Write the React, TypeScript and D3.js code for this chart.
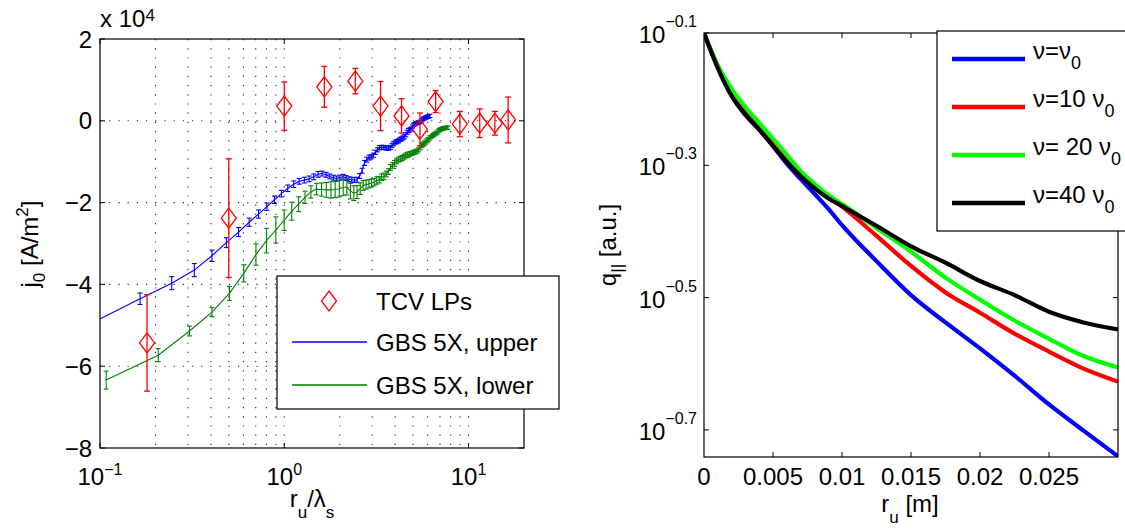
import * as d3 from "d3";

// left panel: j0 vs r_u/lambda_s (values in units of 1e4 A/m^2)
const lpR = [0.18, 0.5, 1.0, 1.65, 2.43, 3.33, 4.33, 5.45, 6.63, 8.97, 11.5, 13.9, 16.4];
const lpJ = [-5.43, -2.38, 0.36, 0.83, 0.97, 0.36, 0.12, -0.21, 0.47, -0.08, -0.06, -0.06, 0.02];
const lpErr = [1.18, 1.45, 0.59, 0.5, 0.31, 0.6, 0.42, 0.4, 0.27, 0.31, 0.35, 0.29, 0.56];

const upperR = [
  0.085, 0.165, 0.245, 0.325, 0.405, 0.485, 0.565, 0.645, 0.725, 0.805, 0.885, 0.965,
  1.045, 1.125, 1.205, 1.285, 1.365, 1.445, 1.525, 1.605, 1.685, 1.765, 1.845, 1.925,
  2.005, 2.085, 2.165, 2.245, 2.325, 2.405, 2.485, 2.565, 2.645, 2.725, 2.805, 2.885,
  2.965, 3.045, 3.125, 3.205, 3.285, 3.365, 3.445, 3.525, 3.605, 3.685, 3.765, 3.845,
  3.925, 4.005, 4.085, 4.165, 4.245, 4.325, 4.405, 4.485, 4.565, 4.645, 4.725, 4.805,
  4.885, 4.965, 5.045, 5.125, 5.205, 5.285, 5.365, 5.445, 5.525, 5.605, 5.685, 5.765,
  5.845, 5.925, 6.005, 6.085, 6.165,
];
const upperJ = [
  -5.0, -4.35, -3.97, -3.65, -3.3, -2.98, -2.72, -2.48, -2.28, -2.1, -1.93, -1.78,
  -1.65, -1.55, -1.48, -1.45, -1.42, -1.37, -1.31, -1.29, -1.32, -1.36,
  -1.39, -1.41, -1.39, -1.37, -1.4, -1.43, -1.44, -1.45, -1.44, -1.35,
  -1.22, -1.03, -0.95, -0.9, -0.88, -0.84, -0.77, -0.71, -0.66, -0.65,
  -0.65, -0.66, -0.67, -0.67, -0.65, -0.6, -0.56, -0.52, -0.51, -0.49,
  -0.46, -0.44, -0.42, -0.39, -0.34, -0.28, -0.24, -0.22, -0.19, -0.14,
  -0.1, -0.08, -0.06, -0.05, -0.04, -0.03, 0.0, 0.03, 0.05, 0.06,
  0.08, 0.09, 0.1, 0.11, 0.12,
];
const upperErr = [
  0.14, 0.14, 0.16, 0.16, 0.14, 0.12, 0.11, 0.1, 0.1, 0.09, 0.09, 0.08,
  0.08, 0.08, 0.07, 0.07, 0.07, 0.07, 0.07, 0.06, 0.06, 0.06,
  0.06, 0.06, 0.06, 0.06, 0.06, 0.06, 0.06, 0.06, 0.06, 0.06,
  0.06, 0.06, 0.06, 0.06, 0.05, 0.05, 0.05, 0.05, 0.05, 0.05,
  0.05, 0.05, 0.05, 0.05, 0.05, 0.05, 0.05, 0.05, 0.05, 0.05,
  0.05, 0.05, 0.05, 0.05, 0.05, 0.05, 0.05, 0.05, 0.04, 0.04,
  0.04, 0.04, 0.04, 0.04, 0.04, 0.04, 0.04, 0.04, 0.04, 0.04,
  0.04, 0.04, 0.04, 0.04, 0.04,
];

const lowerR = [
  0.108, 0.207, 0.306, 0.405, 0.504, 0.603, 0.702, 0.801, 0.9, 0.999,
  1.098, 1.197, 1.296, 1.395, 1.494, 1.593, 1.692, 1.791, 1.89, 1.989,
  2.088, 2.187, 2.286, 2.385, 2.484, 2.583, 2.682, 2.781, 2.88, 2.979,
  3.078, 3.177, 3.276, 3.375, 3.474, 3.573, 3.672, 3.771, 3.87, 3.969,
  4.068, 4.167, 4.266, 4.365, 4.464, 4.563, 4.662, 4.761, 4.86, 4.959,
  5.058, 5.157, 5.256, 5.355, 5.454, 5.553, 5.652, 5.751, 5.85, 5.949,
  6.048, 6.147, 6.246, 6.345, 6.444, 6.543, 6.642, 6.741, 6.84, 6.939,
  7.038, 7.137, 7.236, 7.335, 7.434, 7.533, 7.632, 7.731,
];
const lowerJ = [
  -6.34, -5.73, -5.14, -4.68, -4.22, -3.73, -3.27, -2.93, -2.67, -2.43,
  -2.21, -2.04, -1.87, -1.74, -1.67, -1.68, -1.69, -1.69, -1.68, -1.66,
  -1.63, -1.62, -1.72, -1.77, -1.74, -1.66, -1.58, -1.56, -1.54, -1.52,
  -1.5, -1.46, -1.44, -1.38, -1.36, -1.3, -1.24, -1.14, -1.09, -1.04,
  -0.99, -0.95, -0.93, -0.91, -0.88, -0.85, -0.83, -0.82, -0.8, -0.79,
  -0.77, -0.76, -0.74, -0.71, -0.66, -0.61, -0.58, -0.55, -0.52, -0.49,
  -0.46, -0.42, -0.4, -0.37, -0.35, -0.33, -0.31, -0.29, -0.26, -0.23,
  -0.21, -0.2, -0.19, -0.18, -0.18, -0.17, -0.17, -0.17,
];
const lowerErr = [
  0.22, 0.16, 0.12, 0.11, 0.17, 0.21, 0.26, 0.3, 0.32, 0.25,
  0.22, 0.18, 0.15, 0.15, 0.14, 0.16, 0.18, 0.2, 0.2, 0.2,
  0.2, 0.19, 0.19, 0.18, 0.16, 0.14, 0.12, 0.11, 0.1, 0.1,
  0.09, 0.09, 0.08, 0.08, 0.08, 0.07, 0.07, 0.07, 0.07, 0.07,
  0.06, 0.06, 0.06, 0.06, 0.06, 0.06, 0.06, 0.06, 0.05, 0.05,
  0.05, 0.05, 0.05, 0.05, 0.05, 0.05, 0.05, 0.05, 0.05, 0.05,
  0.05, 0.05, 0.04, 0.04, 0.04, 0.04, 0.04, 0.04, 0.04, 0.04,
  0.04, 0.04, 0.04, 0.04, 0.04, 0.04, 0.04, 0.04,
];

const leftYTicks = [2, 0, -2, -4, -6, -8];
const leftXTicks = [0.1, 1, 10];
const leftXTickExp = ["\u22121", "0", "1"];

// right panel: q_par vs r_u
const qR = [0, 0.001, 0.002, 0.003, 0.004, 0.005, 0.006, 0.007, 0.008, 0.009, 0.01, 0.0125, 0.015, 0.0175, 0.02, 0.0225, 0.025, 0.0275, 0.03];
const qNu1 = [0.794, 0.706, 0.645, 0.603, 0.571, 0.536, 0.504, 0.478, 0.454, 0.431, 0.407, 0.359, 0.319, 0.29, 0.265, 0.241, 0.218, 0.199, 0.182];
const qNu10 = [0.794, 0.708, 0.652, 0.612, 0.579, 0.547, 0.518, 0.49, 0.467, 0.449, 0.434, 0.392, 0.353, 0.322, 0.3, 0.279, 0.262, 0.247, 0.236];
const qNu20 = [0.794, 0.71, 0.654, 0.614, 0.581, 0.55, 0.52, 0.491, 0.47, 0.452, 0.438, 0.403, 0.371, 0.339, 0.314, 0.292, 0.274, 0.258, 0.248];
const qNu40 = [0.794, 0.703, 0.638, 0.597, 0.567, 0.536, 0.507, 0.483, 0.463, 0.447, 0.435, 0.406, 0.378, 0.357, 0.335, 0.319, 0.301, 0.29, 0.283];

const rightXTicks = [0, 0.005, 0.01, 0.015, 0.02, 0.025];
const rightXLabels = ["0", "0.005", "0.01", "0.015", "0.02", "0.025"];
const rightYExp = [-0.1, -0.3, -0.5, -0.7];
const rightYExpLabels = ["\u22120.1", "\u22120.3", "\u22120.5", "\u22120.7"];

const series = [
  { name: "\u03bd=\u03bd", sub: "0", color: "#0000ff", q: qNu1 },
  { name: "\u03bd=10 \u03bd", sub: "0", color: "#ff0000", q: qNu10 },
  { name: "\u03bd= 20 \u03bd", sub: "0", color: "#00ff00", q: qNu20 },
  { name: "\u03bd=40 \u03bd", sub: "0", color: "#000000", q: qNu40 },
];

const FONT = "'Liberation Sans', Arial, Helvetica, sans-serif";

const xL = d3.scaleLog().domain([0.1, 20]).range([100, 524]);
const yL = d3.scaleLinear().domain([-8, 2]).range([448, 39]);
const xR = d3.scaleLinear().domain([0, 0.03]).range([704, 1118]);
const yR = d3.scaleLog().domain([Math.pow(10, -0.741), Math.pow(10, -0.1)]).range([457, 33]);

function ErrSeries({ r, j, err, color, cap }: { r: number[]; j: number[]; err: number[]; color: string; cap: number }) {
  const path = d3
    .line<number>()
    .x((_, i) => xL(r[i]))
    .y((d) => yL(d))(j);
  return (
    <g stroke={color} fill="none" strokeWidth={1.1}>
      <path d={path || ""} />
      {r.map((v, i) => {
        const x = xL(v);
        const y0 = yL(j[i] - err[i]);
        const y1 = yL(j[i] + err[i]);
        return (
          <g key={i}>
            <line x1={x} x2={x} y1={y0} y2={y1} />
            <line x1={x - cap} x2={x + cap} y1={y0} y2={y0} />
            <line x1={x - cap} x2={x + cap} y1={y1} y2={y1} />
          </g>
        );
      })}
    </g>
  );
}

const diamond = (cx: number, cy: number) =>
  `M${cx},${cy - 10}L${cx + 7.5},${cy}L${cx},${cy + 10}L${cx - 7.5},${cy}Z`;

export default function App() {
  const gridX = xL.ticks().filter((t) => t > 0.1 && t < 20);
  const gridY = [0, -2, -4, -6];
  const qLine = d3
    .line<number>()
    .x((_, i) => xR(qR[i]))
    .y((d) => yR(d))
    .curve(d3.curveMonotoneX);

  return (
    <svg
      width={1125}
      height={529}
      style={{ position: "absolute", left: 0, top: 0, background: "#fff" }}
      fontFamily={FONT}
    >
      <defs>
        <clipPath id="clipL">
          <rect x={100} y={39} width={424} height={409} />
        </clipPath>
        <clipPath id="clipR">
          <rect x={704} y={33} width={414} height={424} />
        </clipPath>
      </defs>

      {/* ---------- left panel ---------- */}
      <g stroke="#222" strokeWidth={1.1} strokeDasharray="1.2,8">
        {gridX.map((t) => (
          <line key={t} x1={xL(t)} x2={xL(t)} y1={39} y2={448} />
        ))}
        {gridY.map((t) => (
          <line key={t} x1={100} x2={524} y1={yL(t)} y2={yL(t)} />
        ))}
      </g>

      <g clipPath="url(#clipL)">
        <ErrSeries r={upperR} j={upperJ} err={upperErr} color="#0000ff" cap={2.5} />
        <ErrSeries r={lowerR} j={lowerJ} err={lowerErr} color="#008000" cap={2.5} />
      </g>

      <g stroke="#ff0000" fill="none" strokeWidth={1.3}>
        {lpR.map((v, i) => {
          const x = xL(v);
          const y = yL(lpJ[i]);
          const y0 = yL(lpJ[i] - lpErr[i]);
          const y1 = yL(lpJ[i] + lpErr[i]);
          return (
            <g key={i}>
              <line x1={x} x2={x} y1={y0} y2={y1} />
              <line x1={x - 3} x2={x + 3} y1={y0} y2={y0} />
              <line x1={x - 3} x2={x + 3} y1={y1} y2={y1} />
              <path d={diamond(x, y)} />
            </g>
          );
        })}
      </g>

      <rect x={100} y={39} width={424} height={409} fill="none" stroke="#000" strokeWidth={1.2} />
      <g stroke="#000" strokeWidth={1}>
        {leftYTicks.map((t) => (
          <g key={t}>
            <line x1={100} x2={105} y1={yL(t)} y2={yL(t)} />
            <line x1={524} x2={519} y1={yL(t)} y2={yL(t)} />
          </g>
        ))}
        {leftXTicks.map((t) => (
          <g key={t}>
            <line x1={xL(t)} x2={xL(t)} y1={448} y2={443} />
            <line x1={xL(t)} x2={xL(t)} y1={39} y2={44} />
          </g>
        ))}
      </g>
      <g fontSize={24} fill="#000">
        {leftYTicks.map((t) => (
          <text key={t} x={92} y={yL(t) + 8.5} textAnchor="end">
            {t < 0 ? "\u2212" + Math.abs(t) : String(t)}
          </text>
        ))}
        {leftXTicks.map((t, i) => (
          <text key={t} x={xL(t)} y={485} textAnchor="middle">
            10
            <tspan dy={-10} fontSize={16}>
              {leftXTickExp[i]}
            </tspan>
          </text>
        ))}
        <text x={100} y={27}>
          x 10
          <tspan dy={-6} fontSize={17}>
            4
          </tspan>
        </text>
        <text x={312} y={507} textAnchor="middle">
          r
          <tspan dy={11} fontSize={17}>
            u
          </tspan>
          <tspan dy={-11}>/λ</tspan>
          <tspan dy={11} fontSize={17}>
            s
          </tspan>
        </text>
        <text transform="translate(38,244) rotate(-90)" textAnchor="middle">
          j
          <tspan dy={7} fontSize={17}>
            0
          </tspan>
          <tspan dy={-7}> [A/m</tspan>
          <tspan dy={-10} fontSize={17}>
            2
          </tspan>
          <tspan dy={10}>]</tspan>
        </text>
      </g>

      {/* left legend */}
      <rect x={277} y={276} width={282} height={133} fill="#fff" stroke="#000" strokeWidth={1.2} />
      <path d={diamond(329, 301)} fill="none" stroke="#ff0000" strokeWidth={1.3} />
      <line x1={292} x2={367} y1={342} y2={342} stroke="#0000ff" strokeWidth={1.4} />
      <line x1={292} x2={367} y1={385} y2={385} stroke="#008000" strokeWidth={1.4} />
      <g fontSize={24} fill="#000">
        <text x={376} y={310}>TCV LPs</text>
        <text x={376} y={351}>GBS 5X, upper</text>
        <text x={376} y={394}>GBS 5X, lower</text>
      </g>

      {/* ---------- right panel ---------- */}
      <g clipPath="url(#clipR)" fill="none" strokeWidth={4.2} strokeLinejoin="round">
        {series.map((s) => (
          <path key={s.color} d={qLine(s.q) || ""} stroke={s.color} />
        ))}
      </g>
      <rect x={704} y={33} width={414} height={424} fill="none" stroke="#000" strokeWidth={1.2} />
      <g stroke="#000" strokeWidth={1}>
        {rightXTicks.slice(1).map((t) => (
          <g key={t}>
            <line x1={xR(t)} x2={xR(t)} y1={457} y2={452} />
            <line x1={xR(t)} x2={xR(t)} y1={33} y2={38} />
          </g>
        ))}
        {rightYExp.map((e) => (
          <g key={e}>
            <line x1={704} x2={709} y1={yR(Math.pow(10, e))} y2={yR(Math.pow(10, e))} />
            <line x1={1118} x2={1113} y1={yR(Math.pow(10, e))} y2={yR(Math.pow(10, e))} />
          </g>
        ))}
      </g>
      <g fontSize={24} fill="#000">
        {rightXTicks.map((t, i) => (
          <text key={t} x={xR(t)} y={485} textAnchor="middle">
            {rightXLabels[i]}
          </text>
        ))}
        {rightYExp.map((e, i) => (
          <text key={e} x={697} y={yR(Math.pow(10, e)) + 10} textAnchor="end">
            10
            <tspan dy={-16} fontSize={16}>
              {rightYExpLabels[i]}
            </tspan>
          </text>
        ))}
        <text x={910} y={512} textAnchor="middle">
          r
          <tspan dy={11} fontSize={17}>
            u
          </tspan>
          <tspan dy={-11}> [m]</tspan>
        </text>
        <text transform="translate(616,245) rotate(-90)" textAnchor="middle">
          q
          <tspan dy={7} fontSize={17}>
            ||
          </tspan>
          <tspan dy={-7}> [a.u.]</tspan>
        </text>
      </g>

      {/* right legend */}
      <rect x={937} y={31} width={192} height={200} fill="#fff" stroke="#000" strokeWidth={1.2} />
      {series.map((s, i) => {
        const ly = 59 + i * 48;
        return (
          <g key={s.color}>
            <line x1={952} x2={1025} y1={ly} y2={ly} stroke={s.color} strokeWidth={4.5} />
            <text x={1033} y={ly} fontSize={24} fill="#000">
              {s.name}
              <tspan dy={10} fontSize={18}>
                {s.sub}
              </tspan>
            </text>
          </g>
        );
      })}
    </svg>
  );
}
